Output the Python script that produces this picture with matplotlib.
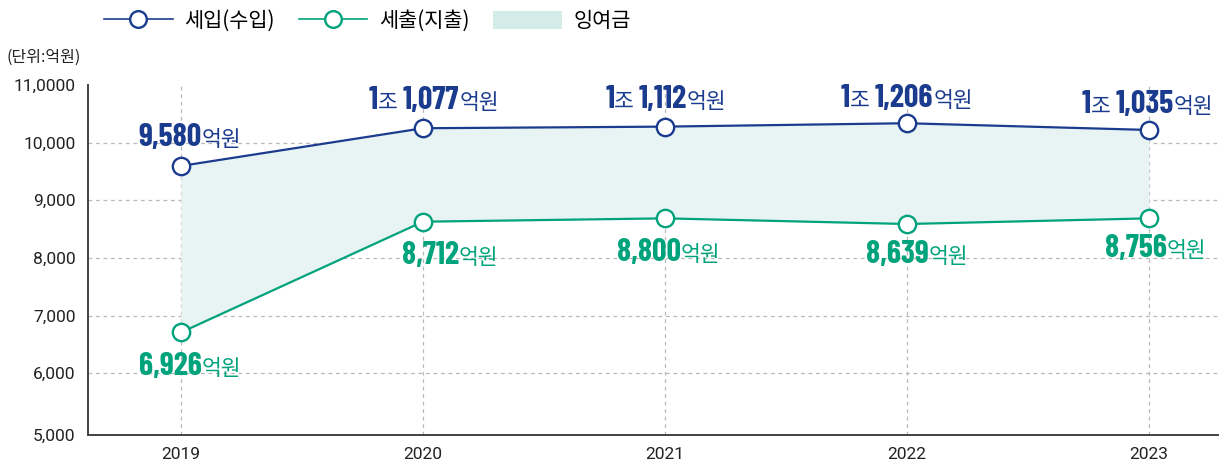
import matplotlib
matplotlib.use('Agg')
import matplotlib.pyplot as plt
from matplotlib.offsetbox import TextArea, HPacker, AnnotationBbox
from matplotlib.lines import Line2D
from matplotlib.patches import Patch

years = [2019, 2020, 2021, 2022, 2023]
revenue = [9596, 10250, 10278, 10337, 10220]
expenditure = [6708, 8629, 8687, 8589, 8687]
revenue_trillion = ['', '1', '1', '1', '1']
revenue_labels = ['9,580', '1,077', '1,112', '1,206', '1,035']
expenditure_labels = ['6,926', '8,712', '8,800', '8,639', '8,756']
yticks = [5000, 6000, 7000, 8000, 9000, 10000, 11000]
ytick_labels = ['5,000', '6,000', '7,000', '8,000', '9,000', '10,000', '11,0000']
legend_labels = ['세입(수입)', '세출(지출)', '잉여금']
unit_text = '(단위:억원)'
trillion_word = '조'
unit_word = '억원'

# label offsets in pixels (layout only)
rev_dx = [9, 11, 1, 0, -1]
rev_dy = [31, 31, 30, 28, 28]
exp_dx = [9, 27, 4, 10, 7]
exp_dy = [-31, -31, -31, -28, -27]

COND = ['Barlow Condensed', 'Roboto', 'DejaVu Sans']
KR = ['Noto Sans CJK KR', 'DejaVu Sans']
TICKF = ['Roboto', 'DejaVu Sans']

BLUE = '#1b3c8e'
GREEN = '#00a37b'
FILL = '#e7f4f3'
GRID = '#b8b8b8'
PX = 72 / 100

fig = plt.figure(figsize=(12.19, 4.65), dpi=100)
ax = fig.add_axes([88/1219, 1-434.5/465, 1-88/1219, (434.5-85)/465])

ax.fill_between(years, expenditure, revenue, color=FILL, zorder=1, lw=0)
ax.plot(years, revenue, color=BLUE, lw=1.6, marker='o', ms=12.5, mfc='white',
        mec=BLUE, mew=1.7, zorder=4)
ax.plot(years, expenditure, color=GREEN, lw=1.6, marker='o', ms=12.5, mfc='white',
        mec=GREEN, mew=1.7, zorder=4)

y_bottom = 4938
ax.set_xlim(2018.616, 2023.29)
ax.set_ylim(y_bottom, 11000)
ax.set_yticks([y_bottom] + yticks[1:])
ax.set_yticklabels(ytick_labels, family=TICKF, fontsize=12.5, color='#222222')
ax.set_xticks(years)
ax.set_xticklabels([str(y) for y in years], family=TICKF, fontsize=12.5, color='#222222')
ax.tick_params(length=0, pad=9)
ax.tick_params(axis='x', pad=9)

for y in yticks[1:-1]:
    ax.axhline(y, color=GRID, lw=0.9, ls=(0, (3, 3)), zorder=0)
for x in years:
    ax.axvline(x, color=GRID, lw=0.9, ls=(0, (3, 3)), zorder=0)

for s in ['top', 'right']:
    ax.spines[s].set_visible(False)
for s in ['left', 'bottom']:
    ax.spines[s].set_color('#333333')
    ax.spines[s].set_linewidth(1.3)


def make_label(trillion, num, color):
    parts = []
    if trillion:
        parts.append(TextArea(trillion, textprops=dict(family=COND, fontsize=23, color=color,
                                                       fontweight='bold')))
        parts.append(TextArea(trillion_word + ' ', textprops=dict(family=KR, fontsize=15.5,
                                                                   color=color, fontweight='medium')))
    parts.append(TextArea(num, textprops=dict(family=COND, fontsize=23, color=color,
                                              fontweight='bold')))
    parts.append(TextArea(unit_word, textprops=dict(family=KR, fontsize=15.5, color=color,
                                                    fontweight='light')))
    return HPacker(children=parts, align='baseline', pad=0, sep=0)


for i, x in enumerate(years):
    box = make_label(revenue_trillion[i], revenue_labels[i], BLUE)
    ab = AnnotationBbox(box, (x, revenue[i]), xybox=(rev_dx[i]*PX, rev_dy[i]*PX - 2),
                        xycoords='data', boxcoords='offset points', frameon=False,
                        box_alignment=(0.5, 0.5), zorder=5)
    ax.add_artist(ab)
    box = make_label('', expenditure_labels[i], GREEN)
    ab = AnnotationBbox(box, (x, expenditure[i]), xybox=(exp_dx[i]*PX, exp_dy[i]*PX - 2),
                        xycoords='data', boxcoords='offset points', frameon=False,
                        box_alignment=(0.5, 0.5), zorder=5)
    ax.add_artist(ab)

handles = [Line2D([], [], color=BLUE, lw=1.2, marker='o', ms=12, mfc='white', mec=BLUE, mew=1.7),
           Line2D([], [], color=GREEN, lw=1.2, marker='o', ms=12, mfc='white', mec=GREEN, mew=1.7),
           Patch(facecolor='#d3ece8', edgecolor='none')]
fig.legend(handles, legend_labels, loc='center left', bbox_to_anchor=(104/1219, 1-21/465),
           ncol=3, frameon=False, prop=dict(family=KR, size=15), handlelength=3.3,
           handleheight=1.0, columnspacing=1.15, handletextpad=0.55, borderpad=0,
           borderaxespad=0)

fig.text(7/1219, 1-57/465, unit_text, family=KR, fontsize=11.5, color='#222222', va='center')

fig.savefig('out.png', dpi=100)
